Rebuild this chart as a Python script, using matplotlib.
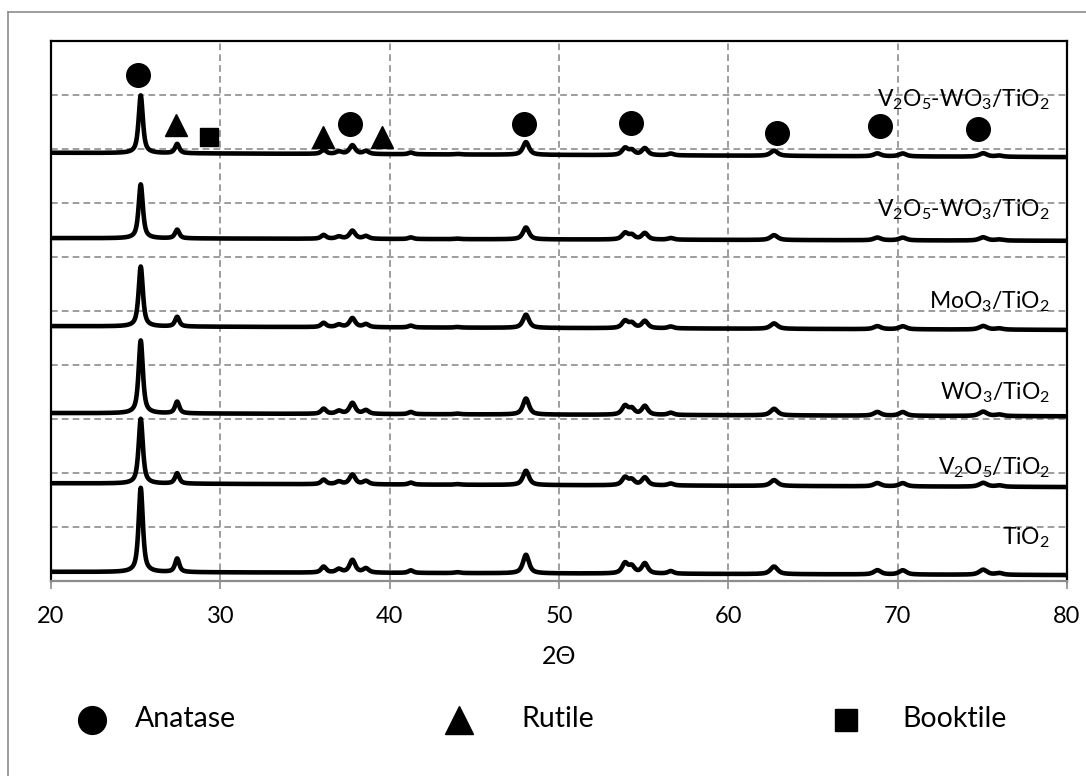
import numpy as np
import matplotlib
matplotlib.use('Agg')
import matplotlib.pyplot as plt
from matplotlib.lines import Line2D

plt.rcParams['font.family'] = ['Lato', 'DejaVu Sans']
plt.rcParams['mathtext.fontset'] = 'custom'
plt.rcParams['mathtext.rm'] = 'Lato'
plt.rcParams['mathtext.it'] = 'Lato:italic'

# peak table (2theta, height relative to the 25.3 peak, fwhm)
peak_pos = [25.3, 27.45, 36.1, 37.0, 37.8, 38.6, 41.25, 44.0, 48.05, 53.9, 54.3,
            55.07, 56.6, 62.7, 68.8, 70.3, 75.05, 76.0]
peak_rel = [1.0, 0.16, 0.07, 0.04, 0.15, 0.05, 0.03, 0.01, 0.22, 0.12, 0.08,
            0.12, 0.03, 0.09, 0.05, 0.05, 0.06, 0.02]
peak_fwhm = [0.30, 0.30, 0.35, 0.40, 0.40, 0.40, 0.35, 0.40, 0.42, 0.42, 0.40,
             0.42, 0.40, 0.50, 0.50, 0.50, 0.55, 0.50]

samples = ['TiO$_{\\mathrm{2}}$',
           'V$_{\\mathrm{2}}$O$_{\\mathrm{5}}$/TiO$_{\\mathrm{2}}$',
           'WO$_{\\mathrm{3}}$/TiO$_{\\mathrm{2}}$',
           'MoO$_{\\mathrm{3}}$/TiO$_{\\mathrm{2}}$',
           'V$_{\\mathrm{2}}$O$_{\\mathrm{5}}$-WO$_{\\mathrm{3}}$/TiO$_{\\mathrm{2}}$',
           'V$_{\\mathrm{2}}$O$_{\\mathrm{5}}$-WO$_{\\mathrm{3}}$/TiO$_{\\mathrm{2}}$']
main_height = [1.56, 1.20, 1.35, 1.11, 1.00, 1.07]
base_left = [0.17, 1.81, 3.11, 4.72, 6.35, 7.93]
base_right = [0.11, 1.74, 3.05, 4.65, 6.30, 7.85]
label_y = [0.81, 2.09, 3.48, 5.17, 6.87, 8.91]

# phase markers over the top pattern
anatase_x = [25.15, 37.65, 47.95, 54.25, 62.85, 68.95, 74.75]
anatase_y = [9.37, 8.46, 8.46, 8.48, 8.30, 8.43, 8.37]
rutile_x = [27.4, 36.05, 39.55]
rutile_y = [8.44, 8.22, 8.22]
brookite_x = [29.35]
brookite_y = [8.22]

legend_names = ['Anatase', 'Rutile', 'Booktile']
legend_marks = ['o', '^', 's']

tt = np.arange(20, 80.001, 0.02)


def pattern(h, b0, b1):
    y = b0 + (b1 - b0) * (tt - 20) / 60
    for p, r, w in zip(peak_pos, peak_rel, peak_fwhm):
        d = (tt - p) / (w / 2)
        lor = 1 / (1 + d**2)
        gau = np.exp(-np.log(2) * d**2)
        y = y + h * r * (0.75 * lor + 0.25 * gau)
    return y


W, H = 1086, 776
fig = plt.figure(figsize=(W / 100, H / 100), dpi=100)
ax = fig.add_axes([51 / W, 1 - 581 / H, (1067 - 51) / W, 540 / H])

for i in range(len(samples)):
    ax.plot(tt, pattern(main_height[i], base_left[i], base_right[i]),
            color='black', lw=3.3, solid_joinstyle='round', zorder=3)
    ax.text(79.0, label_y[i], samples[i], ha='right', va='center',
            fontsize=16.5, zorder=4)

ms = 17
ax.plot(anatase_x, anatase_y, 'o', color='black', ms=ms, zorder=5)
ax.plot(rutile_x, rutile_y, '^', color='black', ms=ms * 0.95, zorder=5)
ax.plot(brookite_x, brookite_y, 's', color='black', ms=ms * 0.75, zorder=5)

ax.set_xlim(20, 80)
ax.set_ylim(0, 10)
ax.set_xticks(range(20, 81, 10))
ax.set_yticks(range(0, 11))
ax.tick_params(axis='y', left=False, labelleft=False)
ax.tick_params(axis='x', direction='out', length=6, width=1.2, color='#8c8c8c',
               labelsize=17, pad=12)
ax.grid(True, color='#8c8c8c', linestyle=(0, (4, 2.5)), linewidth=1.2, zorder=1)
ax.set_axisbelow(True)
for s in ['left', 'top', 'right']:
    ax.spines[s].set_color('black')
    ax.spines[s].set_linewidth(1.6)
ax.spines['bottom'].set_color('#8c8c8c')
ax.spines['bottom'].set_linewidth(1.6)
ax.set_xlabel('2\u0398', fontsize=18, labelpad=13)

# outer chart border
fig.add_artist(Line2D([8 / W, 8 / W], [0, 1 - 12 / H], color='#8c8c8c', lw=1.2))
fig.add_artist(Line2D([8 / W, 1], [1 - 12 / H, 1 - 12 / H], color='#8c8c8c', lw=1.2))

# legend row
leg_mx = [92, 459, 846]
leg_tx = [135, 521, 902]
leg_ms = [20, 20, 16]
for n, m, mx, tx, s in zip(legend_names, legend_marks, leg_mx, leg_tx, leg_ms):
    fig.add_artist(Line2D([mx / W], [1 - 720 / H], marker=m, color='black',
                          ms=s, linestyle='none'))
    fig.text(tx / W, 1 - 719 / H, n, ha='left', va='center', fontsize=20.5)

fig.savefig('out.png', dpi=100)
